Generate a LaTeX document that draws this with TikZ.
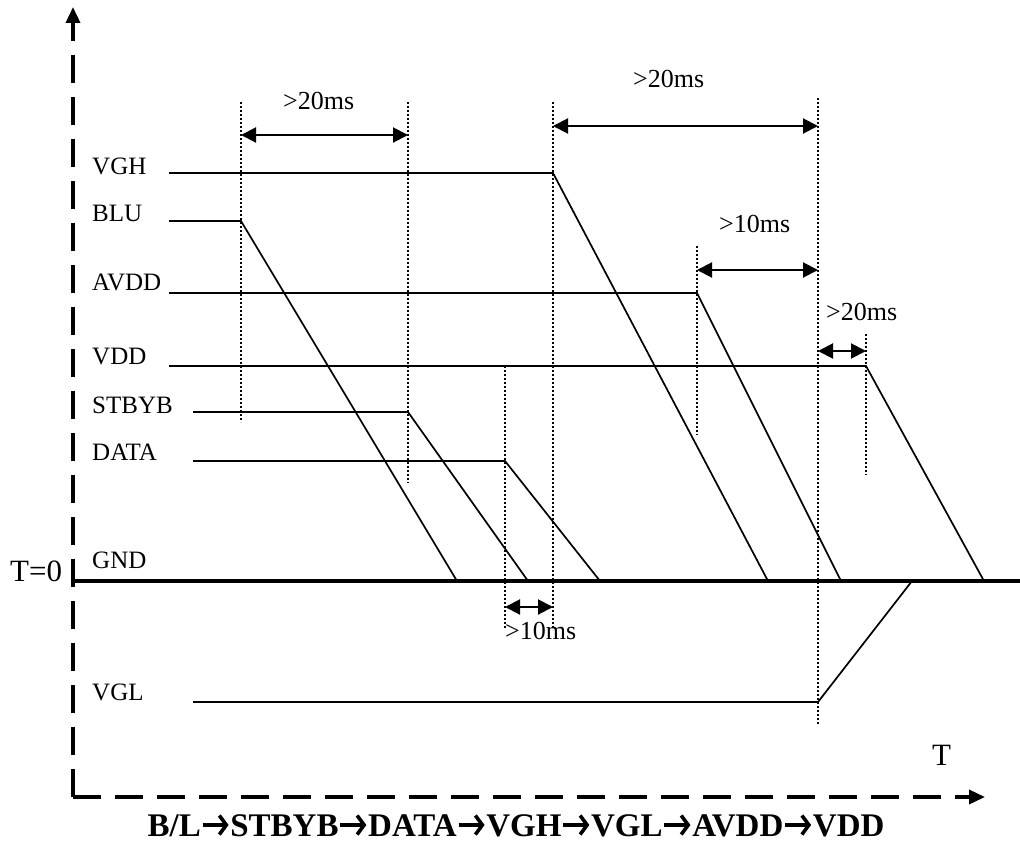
\documentclass[tikz,border=0pt]{standalone}
\usepackage{fontspec}
\setmainfont{Liberation Serif}
\usetikzlibrary{arrows.meta, positioning, calc}

\newcommand{\seqarrow}{\tikz[baseline=0pt, x=1pt, y=1pt]
    \draw[line width=3.6pt, -{Straight Barb[length=7pt, width=19pt, line width=3.6pt]}] (1,11) -- (27,11);}

\begin{document}
\begin{tikzpicture}[
    x=1pt, y=-1pt,
    sig_line/.style={line width=1.7pt},
    gnd_line/.style={line width=4pt},
    axis_line/.style={line width=3.5pt, dash pattern=on 28pt off 14pt, -{Triangle[length=16pt, width=14pt]}},
    guide_line/.style={line width=2pt, dash pattern=on 2pt off 2pt},
    span_arrow/.style={line width=2pt, {Triangle[length=15pt, width=15pt]}-{Triangle[length=15pt, width=15pt]}},
    sig_label/.style={font=\fontsize{25}{30}\selectfont, anchor=base west, inner sep=0pt},
    time_label/.style={font=\fontsize{26}{30}\selectfont, anchor=base west, inner sep=0pt},
    axis_label/.style={font=\fontsize{31}{36}\selectfont, anchor=base west, inner sep=0pt}
]

\useasboundingbox (0,0) rectangle (1020,843);

% Axes
\coordinate (origin) at (73,797);
\coordinate (ytip) at (73,7);
\coordinate (xtip) at (985,797);
\draw[axis_line] (origin) -- (ytip);
\draw[axis_line] (origin) -- (xtip);
\node[axis_label] (t_zero) at (10,581) {T=0};
\node[axis_label] (t_axis) at (932,765) {T};
\node[font=\fontsize{33}{40}\selectfont\bfseries, anchor=base, inner sep=0pt] (sequence) at (516,836)
    {B/L\seqarrow STBYB\seqarrow DATA\seqarrow VGH\seqarrow VGL\seqarrow AVDD\seqarrow VDD};

% Ground
\coordinate (gnd_l) at (73,581);
\coordinate (gnd_r) at (1020,581);
\draw[gnd_line] (gnd_l) -- (gnd_r);
\node[sig_label] (gnd_label) at (92,568) {GND};

% Signals
\node[sig_label] (vgh_label) at (92,174) {VGH};
\node[sig_label] (blu_label) at (92,221) {BLU};
\node[sig_label] (avdd_label) at (92,290) {AVDD};
\node[sig_label] (vdd_label) at (92,364) {VDD};
\node[sig_label] (stbyb_label) at (92,413) {STBYB};
\node[sig_label] (data_label) at (92,460) {DATA};
\node[sig_label] (vgl_label) at (92,700) {VGL};

\coordinate (vgh_off) at (553,173);
\coordinate (blu_off) at (241,221);
\coordinate (avdd_off) at (697,293);
\coordinate (vdd_off) at (866,366);
\coordinate (stbyb_off) at (408,412);
\coordinate (data_off) at (505,461);
\coordinate (vgl_off) at (818,702);

\draw[sig_line] (169,173) -- (vgh_off) -- (768,581);
\draw[sig_line] (169,221) -- (blu_off) -- (457,581);
\draw[sig_line] (169,293) -- (avdd_off) -- (841,581);
\draw[sig_line] (169,366) -- (vdd_off) -- (984,581);
\draw[sig_line] (193,412) -- (stbyb_off) -- (528,581);
\draw[sig_line] (193,461) -- (data_off) -- (600,581);
\draw[sig_line] (193,702) -- (vgl_off) -- (912,581);

% Guides
\draw[guide_line] (241,102) -- (241,422);
\draw[guide_line] (408,102) -- (408,483);
\draw[guide_line] (553,102) -- (553,630);
\draw[guide_line] (505,366) -- (505,628);
\draw[guide_line] (697,246) -- (697,435);
\draw[guide_line] (818,98) -- (818,725);
\draw[guide_line] (866,334) -- (866,475);

% Timing
\draw[span_arrow] (241,135) -- (408,135);
\node[time_label] (t_blu_stbyb) at (283,110) {>20ms};
\draw[span_arrow] (553,126) -- (818,126);
\node[time_label] (t_vgh_vgl) at (633,88) {>20ms};
\draw[span_arrow] (697,270) -- (818,270);
\node[time_label] (t_avdd_vgl) at (719,232) {>10ms};
\draw[span_arrow] (818,351) -- (866,351);
\node[time_label] (t_vgl_vdd) at (826,320) {>20ms};
\draw[span_arrow] (505,607) -- (553,607);
\node[time_label] (t_data_vgh) at (505,639) {>10ms};

\end{tikzpicture}
\end{document}
